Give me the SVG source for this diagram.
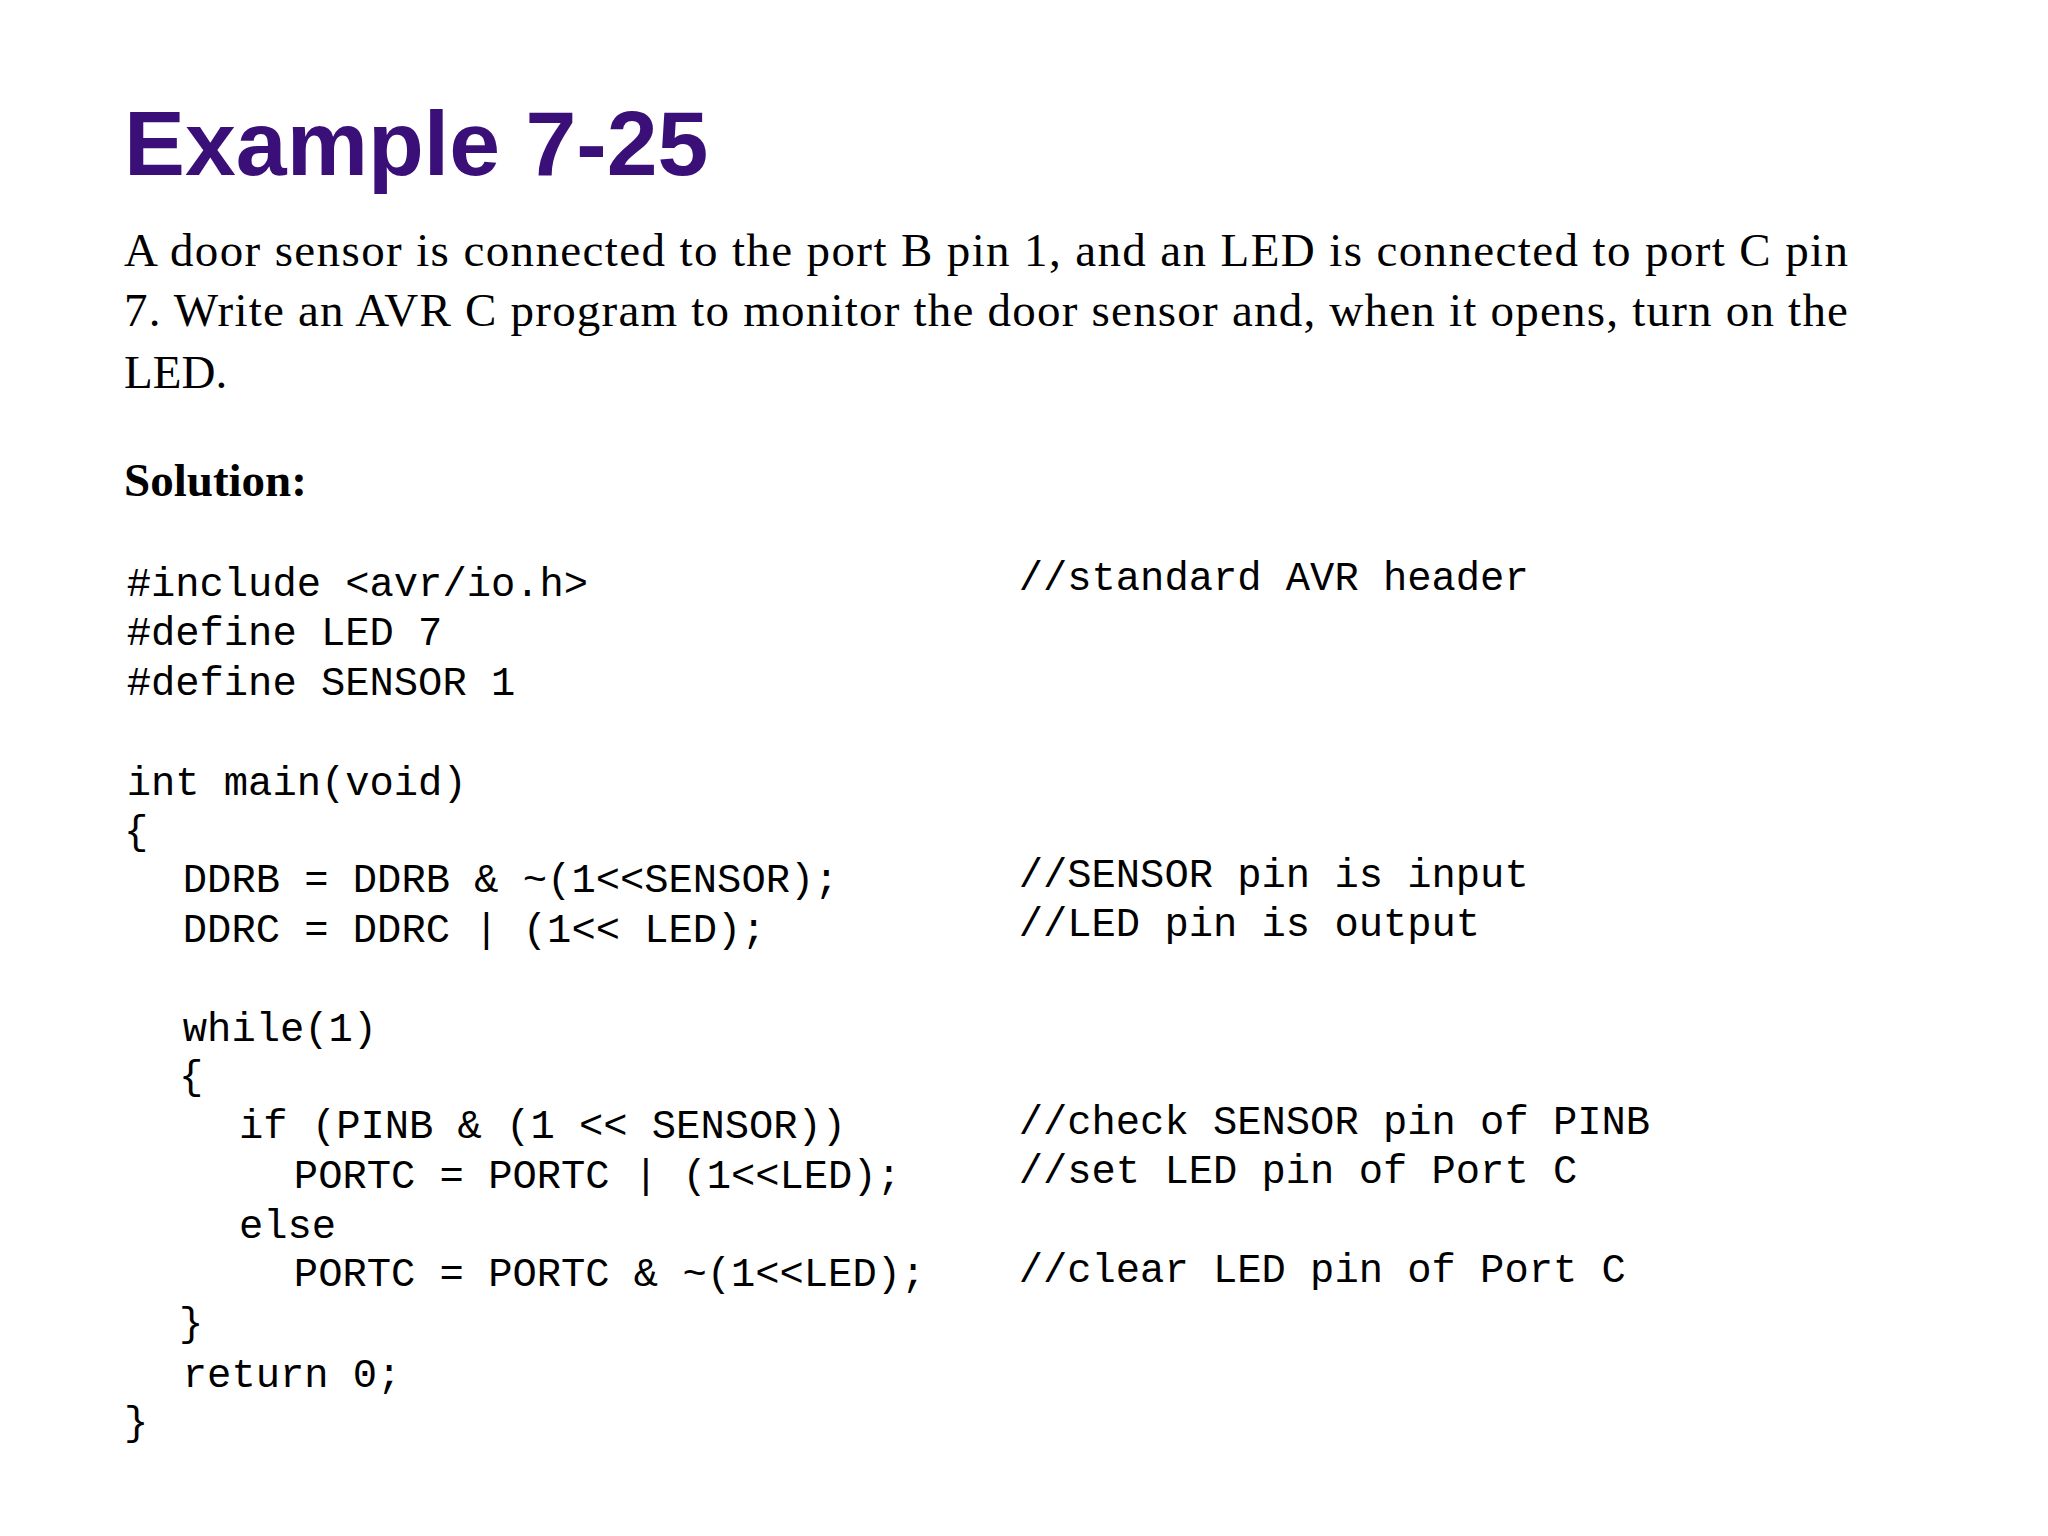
<svg xmlns="http://www.w3.org/2000/svg" width="2048" height="1536" viewBox="0 0 2048 1536">
<style>
.t{font-family:"Liberation Sans",Arial,sans-serif;font-weight:bold;font-size:70px;fill:#3b0f78}
.p{font-family:"Liberation Serif","Times New Roman",serif;font-size:36px;fill:#000}
.s{font-family:"Liberation Serif","Times New Roman",serif;font-size:36px;font-weight:bold;fill:#000}
.c{font-family:"Liberation Mono","Courier New",monospace;font-size:31px;fill:#000;white-space:pre}
</style>
<rect width="2048" height="1536" fill="#fff"/>
<g transform="scale(1.306)">
<text class="t" x="95" y="134">Example 7-25</text>
<text class="p" x="95" y="204" textLength="1320">A door sensor is connected to the port B pin 1, and an LED is connected to port C pin</text>
<text class="p" x="95" y="250" textLength="1320">7. Write an AVR C program to monitor the door sensor and, when it opens, turn on the</text>
<text class="p" x="95" y="297">LED.</text>
<text class="s" x="95" y="380">Solution:</text>
<g class="c">
<text class="c" x="97" y="456">#include &lt;avr/io.h&gt;</text>
<text class="c" x="780" y="452">//standard AVR header</text>
<text class="c" x="97" y="494">#define LED 7</text>
<text class="c" x="97" y="532">#define SENSOR 1</text>
<text class="c" x="97" y="609">int main(void)</text>
<text class="c" x="95" y="646">{</text>
<text class="c" x="140" y="683">DDRB = DDRB &amp; ~(1&lt;&lt;SENSOR);</text>
<text class="c" x="780" y="679">//SENSOR pin is input</text>
<text class="c" x="140" y="721">DDRC = DDRC | (1&lt;&lt; LED);</text>
<text class="c" x="780" y="717">//LED pin is output</text>
<text class="c" x="140" y="797">while(1)</text>
<text class="c" x="137" y="834">{</text>
<text class="c" x="183" y="871">if (PINB &amp; (1 &lt;&lt; SENSOR))</text>
<text class="c" x="780" y="868">//check SENSOR pin of PINB</text>
<text class="c" x="225" y="910">PORTC = PORTC | (1&lt;&lt;LED);</text>
<text class="c" x="780" y="906">//set LED pin of Port C</text>
<text class="c" x="183" y="948">else</text>
<text class="c" x="225" y="985">PORTC = PORTC &amp; ~(1&lt;&lt;LED);</text>
<text class="c" x="780" y="982">//clear LED pin of Port C</text>
<text class="c" x="137" y="1023">}</text>
<text class="c" x="140" y="1062">return 0;</text>
<text class="c" x="95" y="1099">}</text>
</g>
</g>
</svg>
